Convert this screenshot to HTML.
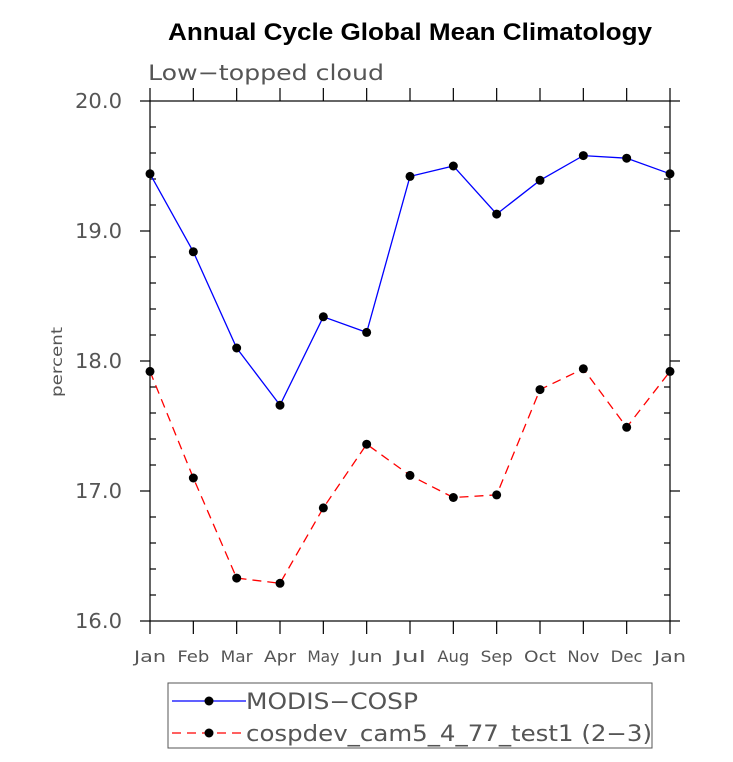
<!DOCTYPE html>
<html><head><meta charset="utf-8"><style>
body{margin:0;background:#fff}
svg text{font-family:"DejaVu Sans","Liberation Sans",sans-serif}
</style></head><body>
<svg width="733" height="757" xmlns="http://www.w3.org/2000/svg">
<text x="168" y="40" textLength="484" lengthAdjust="spacingAndGlyphs" font-weight="bold" font-size="24" fill="#000" style="font-family:'Liberation Sans',sans-serif">Annual Cycle Global Mean Climatology</text>
<text x="148" y="80" textLength="236" lengthAdjust="spacingAndGlyphs" font-size="21" fill="#555">Low−topped cloud</text>
<text x="62" y="362" font-size="15" fill="#555" textLength="70" lengthAdjust="spacingAndGlyphs" transform="rotate(-90 62 362)" text-anchor="middle">percent</text>
<g id="axes"></g>
<g id="series"></g>
<rect x="168" y="683" width="484" height="65" fill="none" stroke="#555" stroke-width="1"/>
<g>
<line x1="172" y1="701" x2="246" y2="701" stroke="#0000ff" stroke-width="1.3"/>
<circle cx="209" cy="701" r="4.5" fill="#000"/>
<text x="246" y="709" font-size="22" textLength="172" lengthAdjust="spacingAndGlyphs" fill="#555">MODIS−COSP</text></g>
<g>
<line x1="172" y1="733" x2="246" y2="733" stroke="#ff0000" stroke-width="1.3" stroke-dasharray="9,6"/>
<circle cx="209" cy="733" r="4.5" fill="#000"/>
<text x="246" y="741" font-size="22" textLength="406" lengthAdjust="spacingAndGlyphs" fill="#555">cospdev_cam5_4_77_test1 (2−3)</text></g>
</svg>
<script>
const months=["Jan","Feb","Mar","Apr","May","Jun","Jul","Aug","Sep","Oct","Nov","Dec","Jan"];
const modis=[19.44,18.84,18.10,17.66,18.34,18.22,19.42,19.50,19.13,19.39,19.58,19.56,19.44];
const model=[17.92,17.10,16.33,16.29,16.87,17.36,17.12,16.95,16.97,17.78,17.94,17.49,17.92];
const yTicks=[16,17,18,19,20];
const yTickLabels=["16.0","17.0","18.0","19.0","20.0"];
const NS="http://www.w3.org/2000/svg";
const L=150,R=670,T=101,B=621,yMin=16,yMax=20;
const xs=i=>L+(R-L)*i/(months.length-1);
const ys=v=>B-(v-yMin)/(yMax-yMin)*(B-T);
function mk(tag,attrs,parent){const e=document.createElementNS(NS,tag);for(const k in attrs)e.setAttribute(k,attrs[k]);parent.appendChild(e);return e;}
const ax=document.getElementById('axes');
let fr=mk('rect',{x:L,y:T,width:R-L,height:B-T,fill:'none',stroke:'#000','stroke-width':1.2},ax);


const st={stroke:'#000','stroke-width':1.2};
months.forEach((m,i)=>{const x=xs(i);
mk('line',Object.assign({x1:x,x2:x,y1:B,y2:B+13},st),ax);
mk('line',Object.assign({x1:x,x2:x,y1:T,y2:T-13},st),ax);
const t=mk('text',{x:x-16,y:B+41,'font-size':16,fill:'#555',textLength:32,lengthAdjust:'spacingAndGlyphs'},ax);t.textContent=m;

});
yTicks.forEach((v,i)=>{const y=ys(v);
mk('line',Object.assign({x1:L-10,x2:L,y1:y,y2:y},st),ax);
mk('line',Object.assign({x1:R,x2:R+10,y1:y,y2:y},st),ax);
const t=mk('text',{x:L-75,y:y+7,'font-size':20,fill:'#555',textLength:47,lengthAdjust:'spacingAndGlyphs'},ax);t.textContent=yTickLabels[i];

});
for(let v=yMin+0.2;v<yMax-0.01;v+=0.2){if(Math.abs(v-Math.round(v))<0.01)continue;const y=ys(v);
mk('line',Object.assign({x1:L,x2:L+6,y1:y,y2:y},st),ax);
mk('line',Object.assign({x1:R-6,x2:R,y1:y,y2:y},st),ax);}
const sg=document.getElementById('series');
function draw(vals,color,dash,name){const g=mk('g',{},sg);


const p=vals.map((v,i)=>xs(i)+','+ys(v)).join(' ');
const a={points:p,fill:'none',stroke:color,'stroke-width':1.3};if(dash)a['stroke-dasharray']=dash;mk('polyline',a,g);
vals.forEach((v,i)=>{const c=mk('circle',{cx:xs(i),cy:ys(v),r:4.5,fill:'#000'},g);

});}
draw(modis,'#0000ff',null,'series-modis-cosp');
draw(model,'#ff0000','9,6','series-cospdev');
</script>
</body></html>
